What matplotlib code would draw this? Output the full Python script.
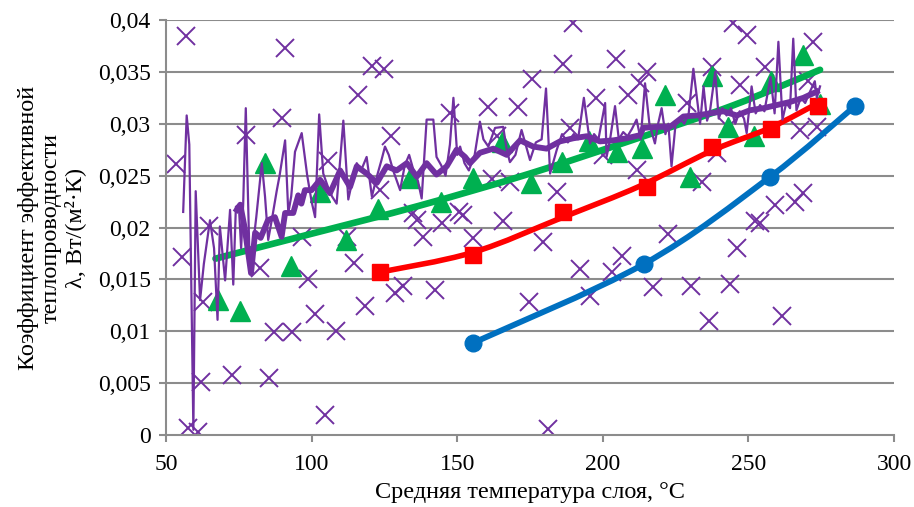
import numpy as np
import matplotlib
matplotlib.use("Agg")
import matplotlib.pyplot as plt
from matplotlib.path import Path
from matplotlib.patches import PathPatch
from matplotlib import font_manager

_names = sorted({f.name for f in font_manager.fontManager.ttflist})
_serif = [n for n in ["Liberation Serif", "Times New Roman", "Tinos", "DejaVu Serif",
                      "Noto Serif"] if n in _names]
plt.rcParams["font.family"] = "serif"
plt.rcParams["font.serif"] = _serif + ["DejaVu Serif"]

# ---------------- data ----------------
blue_x = [155.4, 214.1, 257.4, 286.6]
blue_y = [0.00887, 0.01648, 0.02487, 0.03171]

red_x = [123.5, 155.5, 186.4, 215.1, 237.4, 257.6, 274.0]
red_y = [0.01571, 0.01735, 0.02152, 0.02393, 0.02779, 0.02946, 0.03171]

red_trend_x = [123.5, 155.4, 186.4, 212.8, 237.4, 257.4, 274.0]
red_trend_y = [0.0157, 0.0176, 0.0210, 0.0240, 0.0274, 0.0296, 0.0320]

green_tri_x = [67.9, 75.4, 84.0, 92.9, 102.9, 111.8, 122.9, 133.8, 144.6, 155.5, 165.5,
               175.5, 186.1, 195.2, 205.0, 213.5, 221.4, 230.0, 237.4, 243.1, 252.0,
               257.6, 268.9, 274.6]
green_tri_y = [0.0130, 0.0120, 0.0262, 0.0163, 0.0234, 0.0188, 0.0218, 0.0248, 0.0225,
               0.0248, 0.0282, 0.0243, 0.0263, 0.0283, 0.0273, 0.0277, 0.0328, 0.0249,
               0.0346, 0.0297, 0.0288, 0.0341, 0.0366, 0.0319]

green_trend_x = [67.0, 100.0, 137.0, 175.0, 213.0, 245.0, 274.6]
green_trend_y = [0.0170, 0.0194, 0.0221, 0.0252, 0.0287, 0.0318, 0.0352]

purple_x_pts_x = [56.9, 90.9, 120.7, 124.9, 115.8, 89.7, 77.5, 127.2, 53.4, 105.6, 123.5,
                  134.8, 64.8, 55.4, 96.6, 82.3, 98.8, 114.6, 62.8, 101.2, 87.2, 93.2,
                  108.4, 118.3, 128.6, 131.5, 61.9, 72.6, 85.5, 104.6, 57.7, 61.1, 136.1,
                  138.4, 144.7, 152.1, 155.5, 165.8, 179.6, 142.4, 174.8, 192.2, 195.6,
                  203.3, 206.5, 217.3, 181.3, 222.5, 230.2, 243.7, 236.6, 261.4, 246.0,
                  252.3, 254.0, 259.1, 266.0, 244.8, 249.4, 272.3, 237.4, 215.1, 255.7,
                  270.6, 247.1, 228.8, 243.1, 267.7, 273.5, 239.1, 234.0, 268.9, 189.9,
                  186.2, 204.5, 175.8, 147.5, 160.7, 171.0, 197.7, 208.8, 212.8, 188.7,
                  163.6, 200.0, 211.8, 161.8, 168.1, 184.2, 112.0, 150.5]
purple_x_pts_y = [0.0385, 0.0373, 0.0356, 0.0353, 0.0328, 0.0306, 0.0289, 0.0288, 0.0261,
                  0.0264, 0.0236, 0.0214, 0.0201, 0.0172, 0.0191, 0.0161, 0.0150, 0.0166,
                  0.0128, 0.0117, 0.0099, 0.0099, 0.0100, 0.0124, 0.0137, 0.0144, 0.0051,
                  0.0058, 0.0055, 0.0019, 0.0007, 0.0003, 0.0207, 0.0191, 0.0204, 0.0212,
                  0.0190, 0.0206, 0.0186, 0.0140, 0.0128, 0.0160, 0.0134, 0.0157, 0.0173,
                  0.0143, 0.0006, 0.0194, 0.0144, 0.0146, 0.0110, 0.0115, 0.0180, 0.0206,
                  0.0204, 0.0222, 0.0225, 0.0397, 0.0386, 0.0379, 0.0355, 0.0350, 0.0355,
                  0.0341, 0.0337, 0.0320, 0.0297, 0.0294, 0.0297, 0.0272, 0.0244, 0.0233,
                  0.0397, 0.0358, 0.0362, 0.0343, 0.0310, 0.0316, 0.0316, 0.0325, 0.0328,
                  0.0339, 0.0296, 0.0288, 0.0270, 0.0255, 0.0247, 0.0244, 0.0234, 0.0191,
                  0.0215]

thin_x = [55.9, 57.1, 58.0, 59.4, 60.2, 61.7, 63.0, 65.1, 66.5, 67.7, 68.5, 70.3, 72.0,
          73.1, 74.0, 75.0, 75.8, 76.5, 77.4, 78.8, 80.0, 81.0, 82.9, 84.0, 85.1, 86.5,
          88.0, 89.0, 90.9, 92.0, 93.0, 94.3, 96.6, 98.5, 100.0, 101.2, 102.6, 104.0,
          105.5, 107.0, 108.6, 110.9, 112.6, 114.0, 115.5, 117.0, 118.9, 120.7, 122.5,
          124.0, 125.2, 126.5, 128.0, 130.4, 132.0, 133.5, 135.0, 136.5, 137.8, 139.5,
          141.8, 142.9, 144.5, 146.0, 147.5, 148.7, 150.0, 151.0, 152.5, 154.0, 156.0,
          157.8, 159.0, 160.7, 163.0, 165.8, 167.0, 168.1, 170.0, 172.1, 173.5, 175.0,
          177.0, 179.0, 180.5, 181.9, 184.2, 186.0, 188.0, 190.0, 191.5, 193.5, 195.6,
          197.0, 198.5, 200.8, 201.3, 202.5, 204.2, 205.5, 207.0, 208.5, 210.0, 211.6,
          213.0, 214.5, 216.0, 217.9, 219.0, 220.2, 221.5, 222.5, 223.6, 225.0, 226.5,
          228.0, 229.5, 231.1, 233.4, 234.6, 235.8, 236.8, 238.6, 239.8, 241.0, 242.5,
          244.0, 245.5, 247.0, 248.5, 249.4, 251.1, 252.5, 254.0, 255.5, 257.6, 259.0,
          260.3, 261.7, 263.0, 264.3, 265.4, 266.5, 268.0, 269.5, 271.0, 272.8, 273.5,
          274.6]
thin_y = [0.0215, 0.0308, 0.0280, 0.0005, 0.0235, 0.0130, 0.0165, 0.0207, 0.0180, 0.0111,
          0.0201, 0.0149, 0.0217, 0.0145, 0.0220, 0.0222, 0.0180, 0.0222, 0.0315, 0.0156,
          0.0185, 0.0210, 0.0262, 0.0230, 0.0188, 0.0210, 0.0235, 0.0250, 0.0284, 0.0214,
          0.0230, 0.0273, 0.0291, 0.0250, 0.0225, 0.0210, 0.0309, 0.0252, 0.0240, 0.0230,
          0.0223, 0.0303, 0.0227, 0.0245, 0.0262, 0.0255, 0.0268, 0.0230, 0.0250, 0.0265,
          0.0278, 0.0270, 0.0255, 0.0236, 0.0260, 0.0270, 0.0255, 0.0245, 0.0228, 0.0304,
          0.0304, 0.0268, 0.0260, 0.0250, 0.0280, 0.0325, 0.0270, 0.0278, 0.0262, 0.0255,
          0.0270, 0.0302, 0.0285, 0.0278, 0.0296, 0.0297, 0.0275, 0.0263, 0.0270, 0.0294,
          0.0280, 0.0265, 0.0282, 0.0285, 0.0334, 0.0252, 0.0275, 0.0290, 0.0282, 0.0290,
          0.0285, 0.0325, 0.0281, 0.0290, 0.0285, 0.0320, 0.0268, 0.0285, 0.0317, 0.0285,
          0.0292, 0.0288, 0.0295, 0.0304, 0.0285, 0.0339, 0.0300, 0.0281, 0.0300, 0.0315,
          0.0290, 0.0300, 0.0259, 0.0300, 0.0305, 0.0300, 0.0310, 0.0353, 0.0300, 0.0336,
          0.0303, 0.0312, 0.0350, 0.0305, 0.0315, 0.0308, 0.0315, 0.0300, 0.0312, 0.0305,
          0.0291, 0.0336, 0.0310, 0.0318, 0.0312, 0.0345, 0.0310, 0.0379, 0.0304, 0.0320,
          0.0315, 0.0382, 0.0313, 0.0325, 0.0320, 0.0330, 0.0341, 0.0325, 0.0336]

thick_x = [74.3, 75.5, 77.0, 79.2, 80.6, 82.5, 85.0, 87.4, 89.7, 90.9, 93.7, 95.4, 96.5,
           97.7, 100.0, 102.9, 106.3, 109.8, 113.2, 115.5, 118.9, 122.4, 125.8, 129.2,
           132.7, 136.1, 139.5, 142.9, 146.4, 149.8, 152.7, 154.4, 157.8, 162.4, 167.0,
           171.6, 176.1, 180.7, 185.3, 189.9, 194.5, 199.0, 203.6, 208.2, 212.8, 213.9,
           218.5, 223.1, 227.7, 232.2, 236.8, 241.4, 246.0, 250.5, 255.1, 259.7, 264.3,
           268.9, 273.5]
thick_y = [0.0217, 0.0222, 0.0200, 0.0156, 0.0195, 0.0190, 0.0207, 0.0210, 0.0191, 0.0214,
           0.0214, 0.0231, 0.0223, 0.0236, 0.0236, 0.0246, 0.0233, 0.0255, 0.0239, 0.0259,
           0.0252, 0.0243, 0.0259, 0.0255, 0.0262, 0.0249, 0.0262, 0.0251, 0.0259, 0.0275,
           0.0268, 0.0262, 0.0272, 0.0276, 0.0270, 0.0284, 0.0278, 0.0276, 0.0283, 0.0286,
           0.0288, 0.0283, 0.0284, 0.0286, 0.0289, 0.0296, 0.0297, 0.0297, 0.0307, 0.0308,
           0.0310, 0.0312, 0.0308, 0.0313, 0.0315, 0.0318, 0.0321, 0.0325, 0.0331]

x_ticks = [50, 100, 150, 200, 250, 300]
y_ticks = [0, 0.005, 0.01, 0.015, 0.02, 0.025, 0.03, 0.035, 0.04]
y_tick_labels = ["0", "0,005", "0,01", "0,015", "0,02", "0,025", "0,03", "0,035", "0,04"]
x_label = "Средняя температура слоя, °С"
y_label = "Коэффициент эффективной\nтеплопроводности\nλ, Вт/(м²·К)"

# ---------------- styling ----------------
PURPLE = "#7030A0"
GREEN = "#00B050"
RED = "#FF0000"
BLUE = "#0070C0"
GRID = "#8C8C8C"


def smooth_path(xs, ys):
    pts = np.column_stack([xs, ys]).astype(float)
    verts = [pts[0]]
    codes = [Path.MOVETO]
    n = len(pts)
    for i in range(n - 1):
        p0 = pts[i - 1] if i > 0 else pts[i]
        p1 = pts[i]
        p2 = pts[i + 1]
        p3 = pts[i + 2] if i + 2 < n else pts[i + 1]
        c1 = p1 + (p2 - p0) / 6.0
        c2 = p2 - (p3 - p1) / 6.0
        verts += [c1, c2, p2]
        codes += [Path.CURVE4] * 3
    return Path(verts, codes)


fig = plt.figure(figsize=(9.14, 5.07), dpi=100)
ax = fig.add_axes([166 / 914, 1 - 435 / 507, (894 - 166) / 914, (435 - 20) / 507])

ax.set_xlim(50, 300)
ax.set_ylim(0, 0.04)

for v in y_ticks[1:]:
    ax.axhline(v, color=GRID, lw=1.5, zorder=0)

ax.plot(purple_x_pts_x, purple_x_pts_y, ls="none", marker="x", ms=12.5, mew=1.4,
        color=PURPLE, zorder=2)

ax.plot(green_tri_x, green_tri_y, ls="none", marker="^", ms=14, color=GREEN,
        mec=GREEN, zorder=3)
ax.add_patch(PathPatch(smooth_path(green_trend_x, green_trend_y), fill=False,
                       edgecolor=GREEN, lw=4.8, capstyle="round", zorder=4))

ax.add_patch(PathPatch(smooth_path(red_trend_x, red_trend_y), fill=False, edgecolor=RED,
                       lw=4, capstyle="round", zorder=5))
ax.plot(red_x, red_y, ls="none", marker="s", ms=12, color=RED, zorder=6)

ax.add_patch(PathPatch(smooth_path(blue_x, blue_y), fill=False, edgecolor=BLUE, lw=4.2,
                       capstyle="round", zorder=5))
ax.plot(blue_x, blue_y, ls="none", marker="o", ms=12, color=BLUE, zorder=6)

ax.plot(thin_x, thin_y, color=PURPLE, lw=1.6, zorder=7)
ax.plot(thick_x, thick_y, color=PURPLE, lw=4.2, zorder=8, solid_joinstyle="round")

for s in ["top", "right"]:
    ax.spines[s].set_visible(False)
for s in ["left", "bottom"]:
    ax.spines[s].set_color(GRID)
    ax.spines[s].set_linewidth(1.5)
ax.set_xticks(x_ticks)
ax.set_xticklabels([str(v) for v in x_ticks])
ax.set_yticks(y_ticks)
ax.set_yticklabels(y_tick_labels)
ax.tick_params(axis="both", direction="out", length=5, width=1.5, color=GRID,
               labelsize=17)
ax.tick_params(axis="y", pad=6)
ax.tick_params(axis="x", pad=9)

ax.set_xlabel(x_label, fontsize=17.5, labelpad=5)
fig.text(52 / 914, 1 - 228 / 507, y_label, rotation=90, fontsize=17.5,
         ha="center", va="center", multialignment="center", linespacing=1.15)

fig.savefig("out.png", dpi=100)
